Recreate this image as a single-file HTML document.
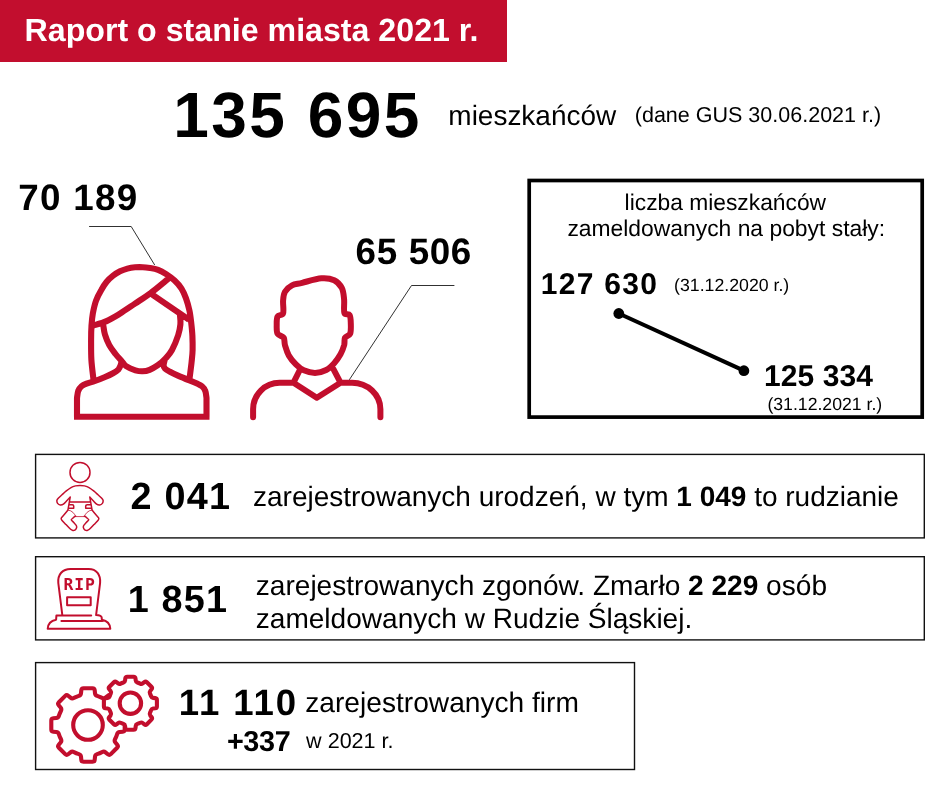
<!DOCTYPE html>
<html lang="pl">
<head>
<meta charset="utf-8">
<title>Raport o stanie miasta 2021 r.</title>
<style>
html,body{margin:0;padding:0;background:#fff;}
body{text-rendering:geometricPrecision;width:940px;height:788px;position:relative;overflow:hidden;font-family:"Liberation Sans",sans-serif;color:#000;}
.t{position:absolute;white-space:nowrap;line-height:1;margin:0;}
.b{font-weight:bold;}
#hdr{position:absolute;left:0;top:0;width:507px;height:62px;background:#c20e2e;}
svg{position:absolute;left:0;top:0;}
</style>
</head>
<body>
<div id="hdr"></div>
<div class="t b" id="title" style="left:24.56px;top:13.87px;font-size:32.17px;color:#fff;">Raport o stanie miasta 2021 r.</div>

<div class="t b" id="n1" style="left:173.22px;top:82.62px;font-size:64.00px;letter-spacing:2.47px;">135 695</div>
<div class="t" id="m1" style="left:448.33px;top:102.31px;font-size:27.98px;">mieszkańców</div>
<div class="t" id="g1" style="left:634.76px;top:104.69px;font-size:21.52px;">(dane GUS 30.06.2021 r.)</div>

<div class="t b" id="nf" style="left:18.13px;top:179.75px;font-size:36.80px;letter-spacing:1.33px;">70 189</div>
<div class="t b" id="nm" style="left:355.58px;top:234.15px;font-size:36.80px;letter-spacing:0.64px;">65 506</div>

<div class="t" id="l1" style="left:624.61px;top:191.19px;font-size:22.81px;">liczba mieszkańców</div>
<div class="t" id="l2" style="left:567.40px;top:216.75px;font-size:22.86px;">zameldowanych na pobyt stały:</div>
<div class="t b" id="p1" style="left:540.75px;top:269.61px;font-size:30.00px;letter-spacing:1.30px;">127 630</div>
<div class="t" id="d1" style="left:674.11px;top:276.70px;font-size:17.72px;">(31.12.2020 r.)</div>
<div class="t b" id="p2" style="left:764.11px;top:361.50px;font-size:30.00px;letter-spacing:0.05px;">125 334</div>
<div class="t" id="d2" style="left:767.40px;top:396.14px;font-size:17.67px;">(31.12.2021 r.)</div>


<div class="t b" id="r1n" style="left:130.59px;top:478.90px;font-size:37.80px;letter-spacing:1.20px;">2 041</div>
<div class="t" id="r1t" style="left:253.00px;top:482.69px;font-size:28.01px;">zarejestrowanych urodzeń, w tym <b>1 049</b> to rudzianie</div>

<div class="t b" id="r2n" style="left:127.69px;top:581.90px;font-size:37.80px;letter-spacing:1.19px;">1 851</div>
<div class="t" id="r2a" style="left:255.77px;top:571.52px;font-size:28.09px;">zarejestrowanych zgonów. Zmarło <b>2 229</b> osób</div>
<div class="t" id="r2b" style="left:255.77px;top:605.05px;font-size:28.05px;">zameldowanych w Rudzie Śląskiej.</div>

<div class="t b" id="r3n" style="left:178.77px;top:685.22px;font-size:36.60px;letter-spacing:1.90px;">11 110</div>
<div class="t" id="r3t" style="left:305.26px;top:688.97px;font-size:28.15px;">zarejestrowanych firm</div>
<div class="t b" id="r3p" style="left:226.93px;top:728.42px;font-size:28.80px;letter-spacing:-0.38px;">+337</div>
<div class="t" id="r3w" style="left:306.12px;top:730.42px;font-size:21.55px;">w 2021 r.</div>

<svg id="art" width="940" height="788" viewBox="0 0 940 788" fill="none">
<g stroke="#000" fill="none"><rect x="529.2" y="180.5" width="393" height="236.6" stroke-width="3.7"/><g stroke-width="1.4" stroke="#111"><rect x="35.6" y="454.4" width="888.7" height="83.5"/><rect x="35.6" y="556.7" width="888.7" height="83.2"/><rect x="35.6" y="662.6" width="598.9" height="106.9"/></g></g>
<g stroke="#1a1a1a" stroke-width="0.9" fill="none"><path d="M89.1,226.5 H131.2 L154.7,265"/><path d="M454.4,285.5 H411.5 L349.3,379.8"/></g>
<g fill="#000" stroke="#000"><path d="M618.8,313.5 L743.9,370.7" stroke-width="4.1"/><circle cx="618.8" cy="313.5" r="5.4" stroke="none"/><circle cx="743.9" cy="370.7" r="5.4" stroke="none"/></g>
<g stroke="#c20e2d" stroke-width="6.1" fill="none" stroke-linejoin="round"><path d="M77,416.7 L77,398 L77.0,398.0 C77.2,396.8 77.5,392.9 78.2,391.0 C79.0,389.1 80.1,387.5 81.5,386.3 C82.9,385.1 84.2,384.5 86.5,383.6 C88.8,382.7 91.9,382.1 95.0,381.0 C98.1,379.9 102.1,378.3 105.1,377.0 C108.1,375.7 110.8,374.4 113.0,373.2 C115.2,372.0 117.0,370.9 118.3,369.6 C119.5,368.3 120.0,366.9 120.5,365.5 C121.0,364.1 121.4,362.0 121.6,361.3 M206.5,416.7 L206.5,398 L206.5,398.0 C206.3,396.8 206.1,392.9 205.3,391.0 C204.6,389.1 203.4,387.5 202.0,386.3 C200.6,385.1 199.1,384.6 197.0,383.6 C194.9,382.6 192.7,381.7 189.5,380.4 C186.3,379.1 181.2,377.0 178.0,375.6 C174.8,374.2 172.2,373.0 170.0,371.8 C167.8,370.6 166.1,369.7 165.0,368.6 C163.9,367.5 163.6,366.8 163.6,365.3 C163.6,363.8 164.6,360.5 164.8,359.5 M74,416.7 H209.5 M93.4,379.0 C93.1,375.8 91.8,366.6 91.4,360.0 C91.0,353.4 91.1,345.4 91.1,339.7 C91.1,333.9 91.2,329.9 91.5,325.5 C91.8,321.1 92.2,317.2 92.9,313.1 C93.7,309.0 94.6,304.6 96.0,300.7 C97.4,296.8 99.5,293.1 101.3,290.0 C103.0,286.9 104.5,284.4 106.5,282.0 C108.5,279.6 110.8,277.5 113.1,275.7 C115.3,273.9 117.6,272.5 120.0,271.3 C122.4,270.1 124.9,269.3 127.4,268.6 C129.9,267.9 132.4,267.5 135.0,267.3 C137.6,267.1 140.3,267.1 142.8,267.2 C145.3,267.3 147.4,267.6 150.0,268.0 C152.6,268.4 155.4,268.8 158.1,269.8 C160.8,270.8 163.2,272.2 166.0,274.0 C168.8,275.8 172.0,278.1 174.6,280.5 C177.2,282.9 179.6,285.6 181.5,288.6 C183.4,291.6 184.7,294.8 186.0,298.4 C187.3,302.0 188.5,306.4 189.4,310.4 C190.3,314.4 190.7,318.3 191.2,322.6 C191.7,326.9 192.2,331.4 192.4,336.0 C192.6,340.6 192.7,345.7 192.6,350.0 C192.5,354.3 192.1,357.2 191.6,362.0 C191.1,366.8 189.8,376.2 189.5,379.0 M93.5,325.5 C95.7,324.8 102.2,323.1 106.6,321.1 C111.0,319.1 115.2,316.5 120.0,313.6 C124.8,310.7 130.1,306.9 135.2,303.5 C140.3,300.1 146.1,296.4 150.5,293.2 C154.9,290.0 158.9,286.6 161.9,284.1 C164.9,281.6 167.2,279.7 168.7,278.4 C170.2,277.1 170.6,276.8 171.0,276.5 M152.5,294.8 C157.5,298.2 176.4,311.2 182.5,315.3 C188.6,319.4 187.9,319.0 189.0,319.7 M102.8,322.5 C102.9,323.0 102.9,323.5 103.3,325.5 C103.7,327.5 103.9,331.1 104.9,334.4 C105.9,337.7 107.5,341.8 109.3,345.1 C111.1,348.4 113.4,351.3 115.5,354.0 C117.6,356.7 120.0,359.1 121.8,361.2 C123.6,363.2 124.0,364.8 126.3,366.3 C128.6,367.8 132.7,369.5 135.4,370.3 C138.1,371.1 140.1,371.4 142.5,371.3 C144.9,371.2 147.1,370.8 149.6,369.8 C152.1,368.8 155.0,367.2 157.7,365.3 C160.4,363.4 163.3,360.8 165.7,358.2 C168.1,355.6 169.9,353.9 172.0,350.0 C174.1,346.1 176.8,339.4 178.2,335.1 C179.6,330.8 180.1,327.7 180.4,324.4 C180.7,321.1 180.2,317.4 180.0,315.5 C179.8,313.6 179.5,313.2 179.4,312.8"/></g>
<g stroke="#c20e2d" stroke-width="6" fill="none" stroke-linejoin="round" stroke-linecap="round"><path d="M321.4,278.3 C326.7,277.9 330.8,278.6 334.2,280.2 C337.6,281.8 340.1,284.7 341.8,287.9 C343.5,291.1 343.7,295.2 344.1,299.4 C344.5,303.6 343.5,310.4 344.4,313.0 C345.3,315.6 348.5,313.2 349.6,315.0 C350.7,316.8 350.7,320.5 350.8,323.6 C350.9,326.7 351.1,331.5 350.1,333.8 C349.1,336.1 346.0,335.8 345.0,337.7 C344.0,339.6 344.9,342.2 344.2,345.0 C343.4,347.8 342.2,351.3 340.5,354.3 C338.8,357.3 336.6,360.6 334.2,363.2 C331.8,365.8 329.4,368.4 326.2,370.0 C323.0,371.6 318.7,372.9 315.0,372.9 C311.3,372.9 307.0,371.6 303.8,370.2 C300.6,368.8 298.4,366.8 295.9,364.3 C293.4,361.9 290.6,358.7 288.8,355.5 C287.0,352.3 285.9,348.3 285.0,345.3 C284.1,342.3 284.9,339.6 283.7,337.7 C282.5,335.8 278.8,335.9 277.6,333.8 C276.4,331.7 276.7,327.8 276.7,324.9 C276.7,322.0 276.5,318.3 277.6,316.4 C278.7,314.4 282.2,315.8 283.1,313.2 C284.0,310.6 282.8,304.2 283.1,300.6 C283.4,297.0 283.5,294.2 285.0,291.7 C286.5,289.1 289.1,286.8 292.0,285.3 C294.9,283.8 297.3,284.0 302.2,282.8 C307.1,281.6 316.1,278.7 321.4,278.3Z M299.8,370 L293.5,382.6 M333.3,368.9 L340.5,382.6 M293.5,382.8 L316.8,397.7 L340.5,382.8 M253.1,417.3 V409.3 A26.5,26.5 0 0 1 279.6,382.8 H293.5 M340.5,382.8 H352 A28.4,26.5 0 0 1 380.4,409.3 V417.3"/></g>
<g stroke="#c20e2d" stroke-width="1.5" fill="none" stroke-linejoin="round" stroke-linecap="round"><circle cx="80" cy="472.4" r="10"/><path d="M70.2,497.1 C69.6,497.8 67.6,499.8 66.5,501.0 C65.4,502.2 64.4,503.5 63.4,504.2 C62.4,504.9 61.3,505.1 60.3,505.0 C59.3,504.9 58.2,504.2 57.6,503.4 C57.0,502.6 56.8,501.3 56.9,500.4 C57.0,499.5 57.6,498.9 58.5,498.0 C59.4,497.1 60.8,495.9 62.0,494.8 C63.2,493.7 64.5,492.4 66.0,491.2 C67.5,490.0 69.4,488.5 71.0,487.6 C72.6,486.7 74.0,486.3 75.5,485.9 C77.0,485.5 78.5,485.4 80.0,485.4 C81.5,485.4 83.0,485.5 84.5,485.9 C86.0,486.3 87.4,486.7 89.0,487.6 C90.6,488.5 92.5,490.0 94.0,491.2 C95.5,492.4 96.8,493.7 98.0,494.8 C99.2,495.9 100.7,497.1 101.5,498.0 C102.3,498.9 102.9,499.5 103.1,500.4 C103.2,501.3 103.0,502.6 102.4,503.4 C101.8,504.2 100.7,504.9 99.7,505.0 C98.7,505.1 97.6,504.9 96.6,504.2 C95.6,503.5 94.6,502.2 93.5,501.0 C92.4,499.8 90.4,497.8 89.8,497.1 M70.2,497.1 L68,509.6 M89.8,497.1 L92,509.6 M70.4,501.9 H89.6 M69.2,504.8 H72.4 Q73.7,504.8 73.7,506 V508.3 H68.6 M90.8,504.8 H87.2 Q85.7,504.8 85.7,506 V508.3 H91.4 M68.0,510.0 C67.6,510.5 65.3,513.3 64.5,514.2 C63.7,515.1 61.6,517.3 61.3,518.0 C61.0,518.7 61.1,519.0 61.6,519.8 C62.1,520.6 65.0,523.5 66.0,524.6 C67.0,525.7 69.8,528.6 70.6,529.3 C71.4,530.0 72.3,530.3 72.8,530.4 C73.3,530.5 74.8,530.1 75.2,529.8 C75.6,529.5 76.5,528.1 76.6,527.6 C76.7,527.1 76.6,526.0 76.2,525.4 C75.8,524.8 74.1,523.0 73.5,522.3 C72.9,521.6 71.2,520.3 71.2,519.8 C71.2,519.3 72.7,518.2 73.2,517.8 C73.7,517.4 75.3,516.4 75.6,516.2 M92.0,510.0 C92.4,510.5 94.7,513.3 95.5,514.2 C96.3,515.1 98.4,517.3 98.7,518.0 C99.0,518.7 98.9,519.0 98.4,519.8 C97.9,520.6 95.0,523.5 94.0,524.6 C93.0,525.7 90.2,528.6 89.4,529.3 C88.6,530.0 87.7,530.3 87.2,530.4 C86.7,530.5 85.2,530.1 84.8,529.8 C84.4,529.5 83.5,528.1 83.4,527.6 C83.3,527.1 83.4,526.0 83.8,525.4 C84.2,524.8 85.9,523.0 86.5,522.3 C87.1,521.6 88.8,520.3 88.8,519.8 C88.8,519.3 87.3,518.2 86.8,517.8 C86.3,517.4 84.7,516.4 84.4,516.2"/><path stroke-width="0.8" d="M68.2,510 C72,510.6 74.5,513.5 75.7,516.6 H84.3 C85.5,513.5 88,510.6 91.8,510"/></g>
<g stroke="#c20e2d" stroke-width="2" fill="none" stroke-linejoin="round" stroke-linecap="round"><path d="M62.3,615 L58.3,583 C57.6,574.5 62.5,568.9 70.5,568.9 H88.6 C96.5,568.9 100.8,574.5 100.1,583 L96.1,615 M91.2,615.6 H56.4 L56.1,619.8 C51.5,620.6 48,623.5 47.7,628.8 H110.3 C110,623.5 106.5,620.6 101.9,619.8 L101.6,617.2 C101.4,615.8 100,615.3 96.1,615 M61.4,620.9 H102.4 M67.1,597.2 H90.7 V605.2 H67.1 Z"/></g>
<text x="79.6" y="590.4" text-anchor="middle" font-family="DejaVu Sans Mono, Liberation Mono, monospace" font-weight="bold" font-size="16.4" letter-spacing="0.8" fill="#c20e2d" stroke="none">RIP</text>
<g stroke="#c20e2d" stroke-width="4.1" fill="none" stroke-linejoin="round"><path d="M78.90,695.88 Q80.80,695.26 81.00,693.27 L81.30,690.29 Q81.50,688.30 83.50,688.30 L92.50,688.30 Q94.50,688.30 94.70,690.29 L95.00,693.27 Q95.20,695.26 97.10,695.88 L97.81,696.11 Q99.71,696.73 101.49,697.64 L102.16,697.97 Q103.94,698.88 105.49,697.61 L107.81,695.72 Q109.35,694.45 110.77,695.87 L117.13,702.23 Q118.55,703.65 117.28,705.19 L115.39,707.51 Q114.12,709.06 115.03,710.84 L115.36,711.51 Q116.27,713.29 116.89,715.19 L117.12,715.90 Q117.74,717.80 119.73,718.00 L122.71,718.30 Q124.70,718.50 124.70,720.50 L124.70,729.50 Q124.70,731.50 122.71,731.70 L119.73,732.00 Q117.74,732.20 117.12,734.10 L116.89,734.81 Q116.27,736.71 115.36,738.49 L115.03,739.16 Q114.12,740.94 115.39,742.49 L117.28,744.81 Q118.55,746.35 117.13,747.77 L110.77,754.13 Q109.35,755.55 107.81,754.28 L105.49,752.39 Q103.94,751.12 102.16,752.03 L101.49,752.36 Q99.71,753.27 97.81,753.89 L97.10,754.12 Q95.20,754.74 95.00,756.73 L94.70,759.71 Q94.50,761.70 92.50,761.70 L83.50,761.70 Q81.50,761.70 81.30,759.71 L81.00,756.73 Q80.80,754.74 78.90,754.12 L78.19,753.89 Q76.29,753.27 74.51,752.36 L73.84,752.03 Q72.06,751.12 70.51,752.39 L68.19,754.28 Q66.65,755.55 65.23,754.13 L58.87,747.77 Q57.45,746.35 58.72,744.81 L60.61,742.49 Q61.88,740.94 60.97,739.16 L60.64,738.49 Q59.73,736.71 59.11,734.81 L58.88,734.10 Q58.26,732.20 56.27,732.00 L53.29,731.70 Q51.30,731.50 51.30,729.50 L51.30,720.50 Q51.30,718.50 53.29,718.30 L56.27,718.00 Q58.26,717.80 58.88,715.90 L59.11,715.19 Q59.73,713.29 60.64,711.51 L60.97,710.84 Q61.88,709.06 60.61,707.51 L58.72,705.19 Q57.45,703.65 58.87,702.23 L65.23,695.87 Q66.65,694.45 68.19,695.72 L70.51,697.61 Q72.06,698.88 73.84,697.97 L74.51,697.64 Q76.29,696.73 78.19,696.11Z"/><circle cx="88" cy="725" r="14.8"/><path d="M123.46,682.48 Q124.90,682.00 125.07,680.49 L125.31,678.39 Q125.50,676.70 127.20,676.70 L133.60,676.70 Q135.30,676.70 135.49,678.39 L135.73,680.49 Q135.90,682.00 137.34,682.48 L137.34,682.48 Q138.78,682.97 140.14,683.64 L140.14,683.64 Q141.50,684.32 142.69,683.38 L144.34,682.06 Q145.67,681.00 146.88,682.20 L151.40,686.72 Q152.60,687.93 151.54,689.26 L150.22,690.91 Q149.28,692.10 149.96,693.46 L149.96,693.46 Q150.63,694.82 151.12,696.26 L151.12,696.26 Q151.60,697.70 153.11,697.87 L155.21,698.11 Q156.90,698.30 156.90,700.00 L156.90,706.40 Q156.90,708.10 155.21,708.29 L153.11,708.53 Q151.60,708.70 151.12,710.14 L151.12,710.14 Q150.63,711.58 149.96,712.94 L149.96,712.94 Q149.28,714.30 150.22,715.49 L151.54,717.14 Q152.60,718.47 151.40,719.68 L146.88,724.20 Q145.67,725.40 144.34,724.34 L142.69,723.02 Q141.50,722.08 140.14,722.76 L140.14,722.76 Q138.78,723.43 137.34,723.92 L137.34,723.92 Q135.90,724.40 135.73,725.91 L135.49,728.01 Q135.30,729.70 133.60,729.70 L127.20,729.70 Q125.50,729.70 125.31,728.01 L125.07,725.91 Q124.90,724.40 123.46,723.92 L123.46,723.92 Q122.02,723.43 120.66,722.76 L120.66,722.76 Q119.30,722.08 118.11,723.02 L116.46,724.34 Q115.13,725.40 113.92,724.20 L109.40,719.68 Q108.20,718.47 109.26,717.14 L110.58,715.49 Q111.52,714.30 110.84,712.94 L110.84,712.94 Q110.17,711.58 109.68,710.14 L109.68,710.14 Q109.20,708.70 107.69,708.53 L105.59,708.29 Q103.90,708.10 103.90,706.40 L103.90,700.00 Q103.90,698.30 105.59,698.11 L107.69,697.87 Q109.20,697.70 109.68,696.26 L109.68,696.26 Q110.17,694.82 110.84,693.46 L110.84,693.46 Q111.52,692.10 110.58,690.91 L109.26,689.26 Q108.20,687.93 109.40,686.72 L113.92,682.20 Q115.13,681.00 116.46,682.06 L118.11,683.38 Q119.30,684.32 120.66,683.64 L120.66,683.64 Q122.02,682.97 123.46,682.48Z" fill="#fff"/><circle cx="130.4" cy="703.2" r="10.7"/></g>
</svg>
</body>
</html>
